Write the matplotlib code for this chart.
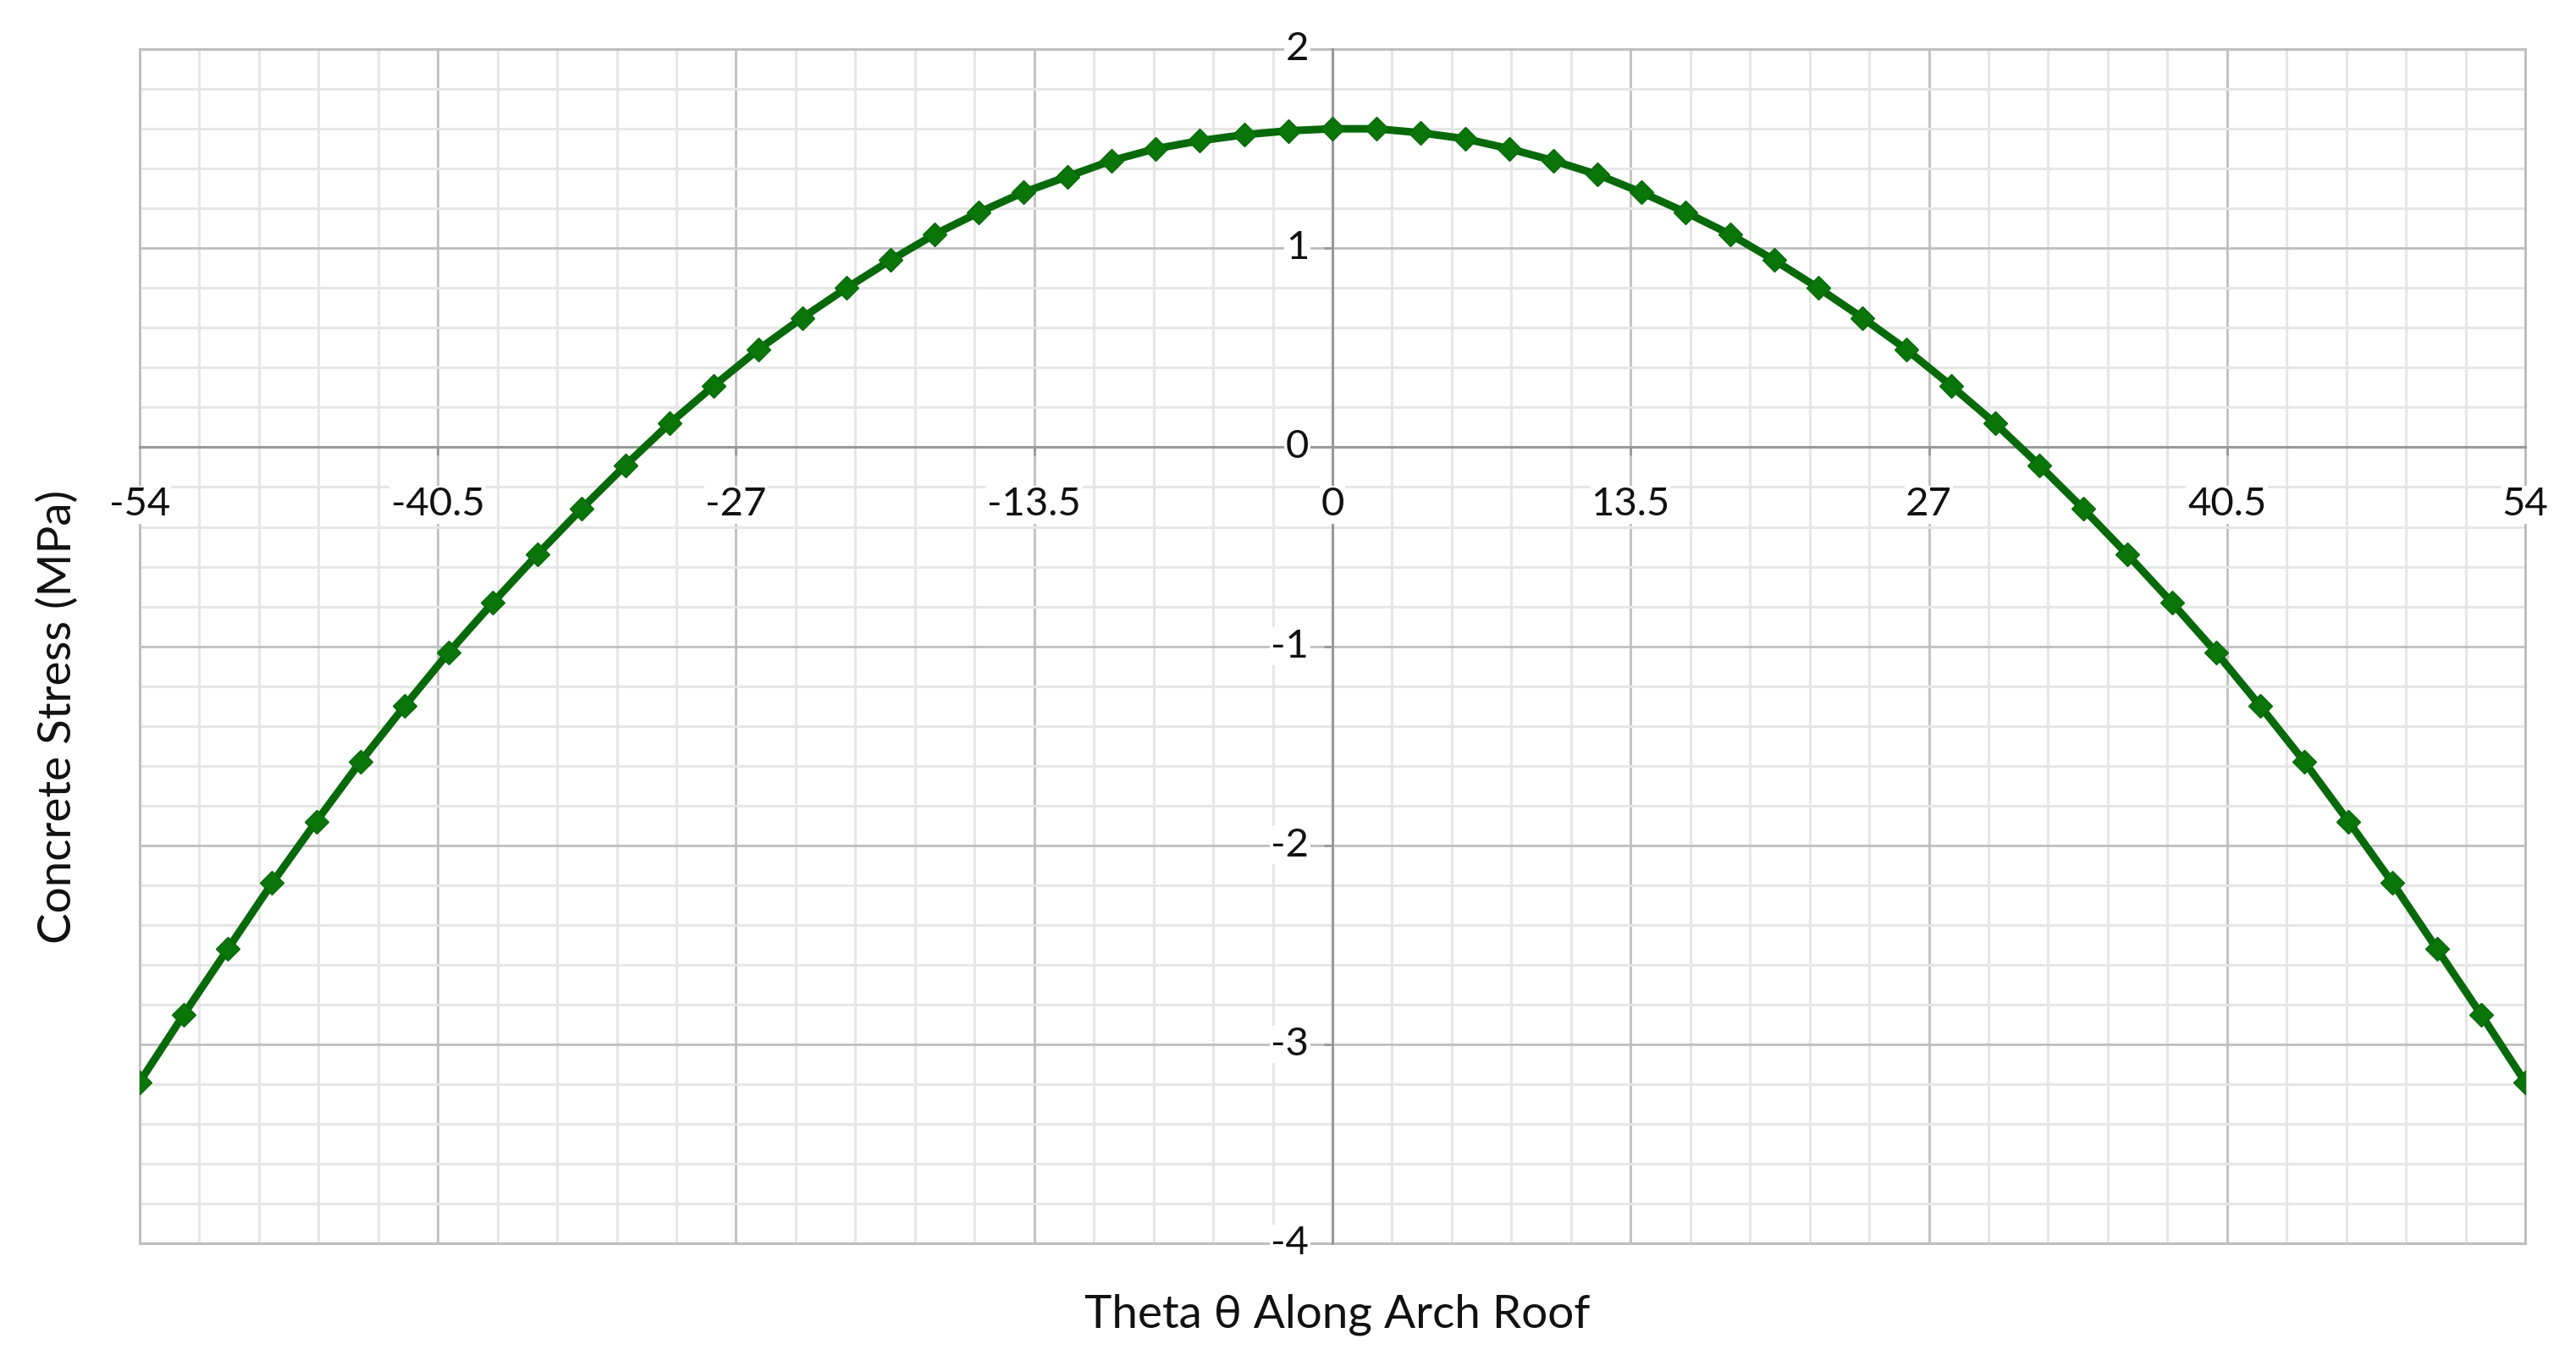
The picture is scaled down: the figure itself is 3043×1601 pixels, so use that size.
import matplotlib.pyplot as plt
from matplotlib.ticker import MultipleLocator
from matplotlib.patches import Rectangle

# stress along the arch roof
theta = [-54, -52, -50, -48, -46, -44, -42, -40, -38, -36, -34, -32, -30, -28,
         -26, -24, -22, -20, -18, -16, -14, -12, -10, -8, -6, -4, -2, 0,
         2, 4, 6, 8, 10, 12, 14, 16, 18, 20, 22, 24, 26, 28,
         30, 32, 34, 36, 38, 40, 42, 44, 46, 48, 50, 52, 54]
stress = [-3.19, -2.85, -2.52, -2.19, -1.88, -1.58, -1.30, -1.03, -0.78, -0.54, -0.31, -0.09, 0.12, 0.31,
          0.49, 0.65, 0.80, 0.94, 1.07, 1.18, 1.28, 1.36, 1.44, 1.50, 1.54, 1.57, 1.59, 1.60,
          1.60, 1.58, 1.55, 1.50, 1.44, 1.37, 1.28, 1.18, 1.07, 0.94, 0.80, 0.65, 0.49, 0.31,
          0.12, -0.09, -0.31, -0.54, -0.78, -1.03, -1.30, -1.58, -1.88, -2.19, -2.52, -2.85, -3.19]

x_ticks = [-54, -40.5, -27, -13.5, 0, 13.5, 27, 40.5, 54]
x_tick_labels = ['-54', '-40.5', '-27', '-13.5', '0', '13.5', '27', '40.5', '54']
y_ticks = [-4, -3, -2, -1, 0, 1, 2]
y_tick_labels = ['-4', '-3', '-2', '-1', '0', '1', '2']

plt.rcParams['font.family'] = ['Lato', 'DejaVu Sans']
plt.rcParams['axes.unicode_minus'] = False
txt_color = '#111111'

fig = plt.figure(figsize=(30.43, 16.01), dpi=100)
ax = fig.add_axes([0.0542, 0.0824, 0.9261, 0.8813])

ax.plot(theta, stress, color='#08690a', lw=6.5, marker='D', ms=14.5,
        markerfacecolor='#0a760a', markeredgecolor='#08690a', zorder=4)

ax.set_xlim(-54, 54)
ax.set_ylim(-4, 2)
ax.set_xticks(x_ticks)
ax.set_yticks(y_ticks)
ax.xaxis.set_minor_locator(MultipleLocator(2.7))
ax.yaxis.set_minor_locator(MultipleLocator(0.2))

ax.set_axisbelow(True)
ax.grid(which='major', color='#bfbfbf', lw=2)
ax.grid(which='minor', color='#e6e6e6', lw=2.2)

# axes cross at the origin
ax.spines['left'].set_position(('data', 0))
ax.spines['bottom'].set_position(('data', 0))
for s in ['left', 'bottom']:
    ax.spines[s].set_color('#999999')
    ax.spines[s].set_linewidth(2.2)
    ax.spines[s].set_zorder(3)
ax.spines['top'].set_visible(False)
ax.spines['right'].set_visible(False)
ax.add_patch(Rectangle((0, 0), 1, 1, transform=ax.transAxes, fill=False,
                       edgecolor='#bfbfbf', lw=2.2, clip_on=False, zorder=3))

ax.tick_params(which='major', length=7, width=2, color='#999999',
               labelbottom=False, labelleft=False)
ax.tick_params(which='minor', length=0)

# tick labels sit on white boxes, like the original
box = dict(facecolor='white', edgecolor='none', pad=1)
for xv, lbl in zip(x_ticks, x_tick_labels):
    ax.annotate(lbl, xy=(xv, 0), xytext=(0, -49), textcoords='offset points',
                ha='center', va='center', fontsize=34, color=txt_color,
                bbox=box, zorder=3.5, annotation_clip=False)
for yv, lbl in zip(y_ticks, y_tick_labels):
    ax.annotate(lbl, xy=(0, yv), xytext=(-20, 0), textcoords='offset points',
                ha='right', va='center', fontsize=34, color=txt_color,
                bbox=box, zorder=3.5, annotation_clip=False)

fig.text(0.519, 0.030, 'Theta θ Along Arch Roof', ha='center', va='center',
         fontsize=39.5, color=txt_color)
fig.text(0.0224, 0.471, 'Concrete Stress (MPa)', ha='center', va='center',
         rotation=90, fontsize=39.5, color=txt_color)

fig.savefig('out.png', dpi=100)
